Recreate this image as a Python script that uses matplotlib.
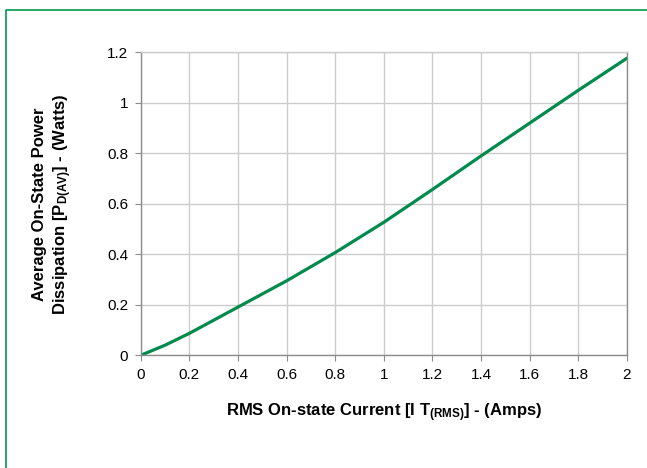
import matplotlib

matplotlib.use("Agg")
import matplotlib.pyplot as plt
from matplotlib.lines import Line2D

plt.rcParams["font.family"] = ["Liberation Sans", "DejaVu Sans"]
plt.rcParams["mathtext.default"] = "regular"

# RMS on-state current (A) vs average on-state power dissipation (W)
current_rms = [0.0, 0.1, 0.2, 0.4, 0.6, 0.8, 1.0, 1.2, 1.4, 1.6, 1.8, 2.0]
power_avg = [0.0, 0.04, 0.087, 0.191, 0.295, 0.407, 0.527, 0.657, 0.79, 0.92, 1.05, 1.177]

x_ticks = [0, 0.2, 0.4, 0.6, 0.8, 1, 1.2, 1.4, 1.6, 1.8, 2]
x_tick_labels = ["0", "0.2", "0.4", "0.6", "0.8", "1", "1.2", "1.4", "1.6", "1.8", "2"]
y_ticks = [0, 0.2, 0.4, 0.6, 0.8, 1.0, 1.2]
y_tick_labels = ["0", "0.2", "0.4", "0.6", "0.8", "1", "1.2"]

GREEN = "#008a4c"
FRAME_GREEN = "#12a05a"
GRID = "#cccccc"
SPINE = "#8c8c8c"

fig = plt.figure(figsize=(6.47, 4.68), dpi=100)
ax = fig.add_axes([0.2175, 0.2408, 0.7515, 0.6472])

ax.plot(current_rms, power_avg, color=GREEN, lw=2.3, solid_capstyle="round",
        solid_joinstyle="round")

ax.set_xlim(0, 2)
ax.set_ylim(0, 1.2)
ax.set_xticks(x_ticks)
ax.set_xticklabels(x_tick_labels)
ax.set_yticks(y_ticks)
ax.set_yticklabels(y_tick_labels)
ax.tick_params(axis="both", labelsize=11, colors="black", length=4, width=0.8,
               color=SPINE, pad=5)
ax.grid(True, color=GRID, lw=1.0)
ax.set_axisbelow(True)
for side in ["left", "bottom", "top", "right"]:
    ax.spines[side].set_color(SPINE)
    ax.spines[side].set_linewidth(1.0)
ax.spines["top"].set_color(GRID)

ax.set_xlabel("RMS On-state Current [I T$_{(RMS)}$] - (Amps)", fontsize=12,
              fontweight="bold", labelpad=14)
ax.set_ylabel("Average On-State Power\nDissipation [P$_{D(AV)}$] - (Watts)",
              fontsize=12, fontweight="bold", labelpad=24, linespacing=1.3)

# outer border, only left and top edges fall inside the image
fig.add_artist(Line2D([6 / 647, 6 / 647, 1.0], [0.0, 1 - 10 / 468, 1 - 10 / 468],
                      transform=fig.transFigure, color=FRAME_GREEN, lw=1.3))

fig.savefig("out.png", dpi=100)
